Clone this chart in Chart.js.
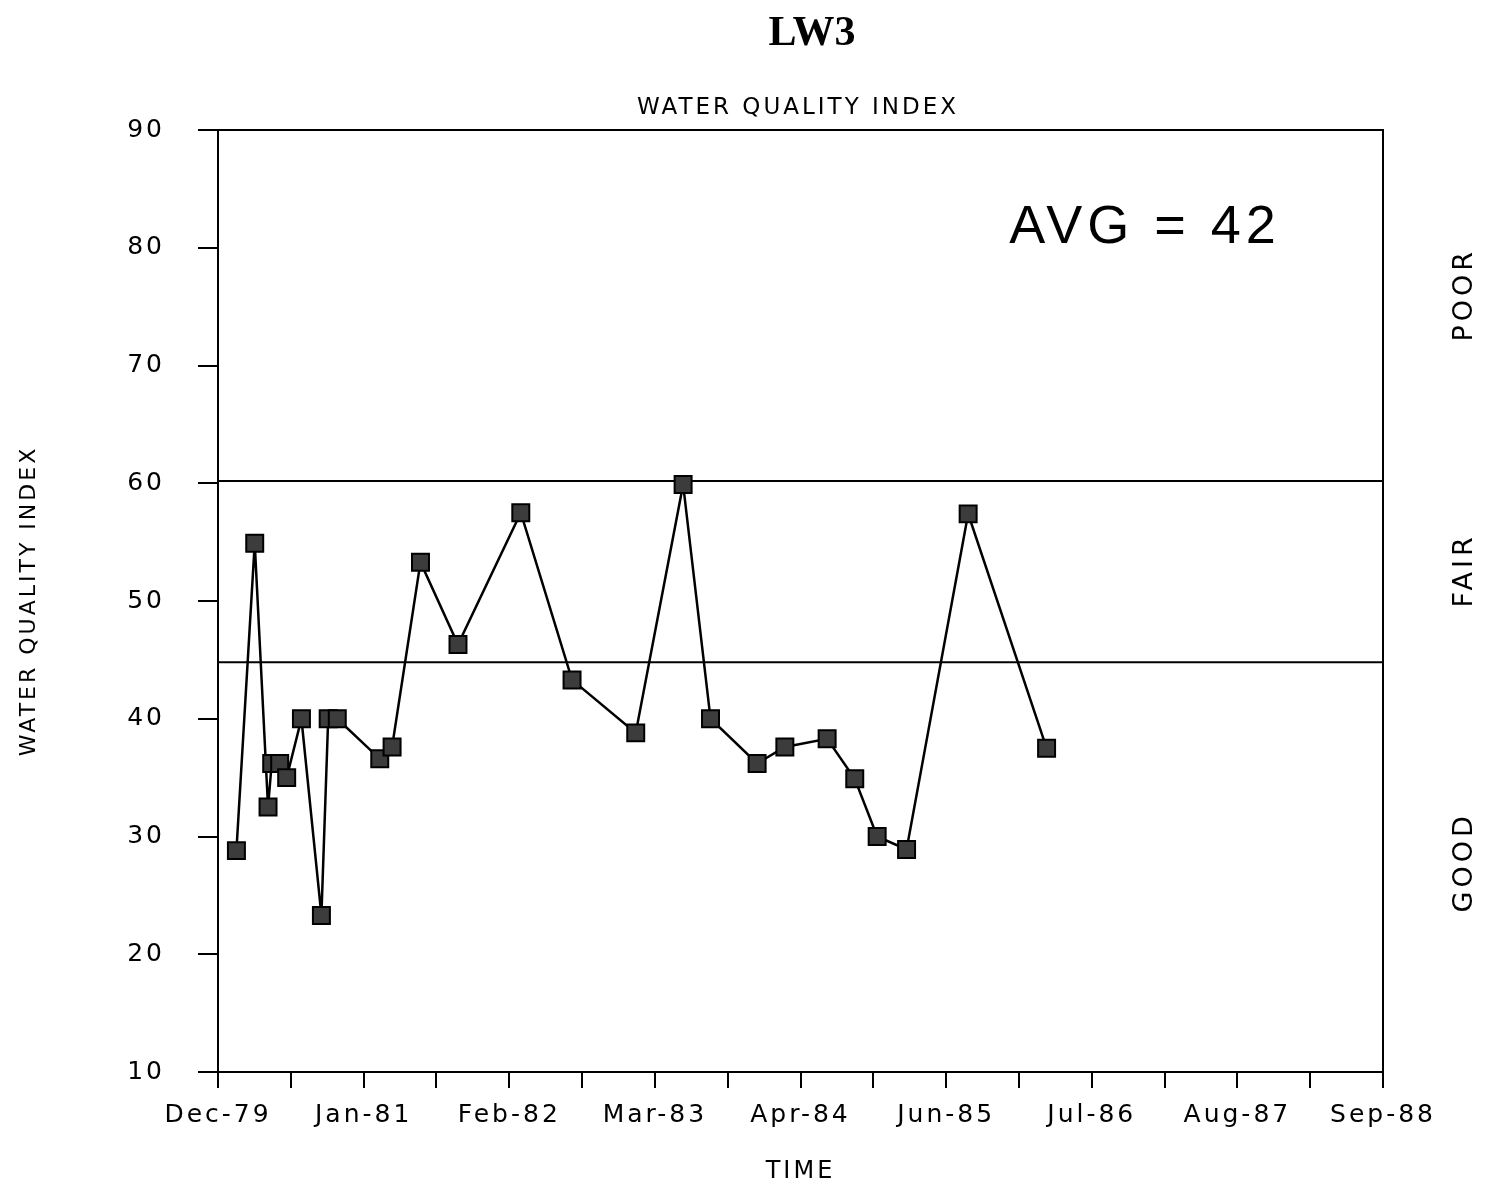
<!DOCTYPE html>
<html>
<head>
<meta charset="utf-8">
<title>LW3 Water Quality Index</title>
<script src="https://cdn.jsdelivr.net/npm/chart.js@4.4.1/dist/chart.umd.min.js"></script>
<style>
  html, body { margin: 0; padding: 0; background: #fff; }
  canvas { display: block; }
</style>
</head>
<body>
<canvas id="wqiChart" width="1486" height="1191"></canvas>
<script>
// labels under every second tick of the time axis
const dateLabels = ['Dec-79', 'Jan-81', 'Feb-82', 'Mar-83', 'Apr-84', 'Jun-85', 'Jul-86', 'Aug-87', 'Sep-88'];
// sample dates, as months after Dec-79
const sampleMonths = [1.66, 3.31, 4.51, 4.84, 5.56, 6.19, 7.52, 9.32, 9.93, 10.75,
  14.58, 15.69, 18.25, 21.63, 27.29, 31.91, 37.65, 41.92, 44.39, 48.59,
  51.09, 54.90, 57.39, 59.41, 62.06, 67.61, 74.68];
const wqiValues = [28.8, 54.9, 32.5, 36.2, 36.2, 35.0, 40.0, 23.3, 40.0, 40.0,
  36.6, 37.6, 53.3, 46.3, 57.5, 43.3, 38.8, 59.9, 40.0, 36.2,
  37.6, 38.3, 34.9, 30.0, 28.9, 57.4, 37.5];
const poorLimit = 60.2;
const fairLimit = 44.8;
const zoneNames = ['POOR', 'FAIR', 'GOOD'];
const zoneCentres = [76, 52.6, 27.8];
const avgValue = 42;
const axisMonths = 105;   // Dec-79 .. Sep-88
const tickCount = 16;

// the old plotter font is widely spaced
const spacing = {
  id: 'spacing',
  beforeUpdate(chart) { chart.ctx.letterSpacing = '3px'; },
  beforeDraw(chart) { chart.ctx.letterSpacing = '3px'; }
};

const decorations = {
  id: 'decorations',
  afterDraw(chart) {
    const { ctx, chartArea: a, scales: { y } } = chart;
    ctx.save();
    ctx.strokeStyle = '#000';
    ctx.lineWidth = 2;
    ctx.strokeRect(a.left, a.top, a.right - a.left, a.bottom - a.top);

    ctx.fillStyle = '#000';
    ctx.textAlign = 'center';
    ctx.letterSpacing = '0px';
    ctx.font = 'bold 42px "Liberation Serif"';
    ctx.fillText('LW3', 812, 45);

    ctx.letterSpacing = '3px';
    ctx.font = '23px "DejaVu Sans"';
    ctx.fillText('WATER QUALITY INDEX', 798, 114);

    ctx.letterSpacing = '5px';
    ctx.font = '54px "Liberation Sans"';
    ctx.fillText('AVG = ' + avgValue, 1145, 243);

    ctx.letterSpacing = '4px';
    ctx.font = '27px "DejaVu Sans"';
    ctx.textBaseline = 'middle';
    zoneNames.forEach((name, i) => {
      ctx.save();
      ctx.translate(1465, y.getPixelForValue(zoneCentres[i]));
      ctx.rotate(-Math.PI / 2);
      ctx.fillText(name, 0, 0);
      ctx.restore();
    });
    ctx.restore();
  }
};

Chart.defaults.font.family = '"DejaVu Sans", sans-serif';
Chart.defaults.color = '#000';

new Chart(document.getElementById('wqiChart'), {
  type: 'line',
  data: {
    datasets: [
      {
        label: 'WQI',
        data: sampleMonths.map((m, i) => ({ x: m, y: wqiValues[i] })),
        borderColor: '#000',
        borderWidth: 2.5,
        tension: 0,
        pointStyle: 'rect',
        pointRadius: 12,
        pointBackgroundColor: '#3c3c3c',
        pointBorderColor: '#000',
        pointBorderWidth: 2
      },
      {
        label: 'Poor limit',
        data: [{ x: 0, y: poorLimit }, { x: axisMonths, y: poorLimit }],
        borderColor: '#000',
        borderWidth: 2,
        pointRadius: 0
      },
      {
        label: 'Fair limit',
        data: [{ x: 0, y: fairLimit }, { x: axisMonths, y: fairLimit }],
        borderColor: '#000',
        borderWidth: 2,
        pointRadius: 0
      }
    ]
  },
  options: {
    responsive: false,
    animation: false,
    layout: { padding: { top: 130, right: 103, bottom: 0, left: 0 } },
    plugins: { legend: { display: false }, tooltip: { enabled: false } },
    scales: {
      x: {
        type: 'linear',
        min: 0,
        max: axisMonths,
        afterFit(s) { s.height = 119; },
        grid: { drawOnChartArea: false, color: '#000', lineWidth: 2, tickLength: 16 },
        border: { color: '#000', width: 2 },
        ticks: {
          stepSize: axisMonths / tickCount,
          autoSkip: false,
          maxRotation: 0,
          padding: 12,
          font: { size: 25 },
          callback: (v, i) => (i % 2 === 0 ? dateLabels[i / 2] : '')
        },
        title: { display: true, text: 'TIME', font: { size: 24 }, padding: { top: 0, bottom: 5 } }
      },
      y: {
        min: 10,
        max: 90,
        afterFit(s) { s.width = 218; },
        grid: { drawOnChartArea: false, color: '#000', lineWidth: 2, tickLength: 20 },
        border: { color: '#000', width: 2 },
        ticks: { stepSize: 10, padding: 33, font: { size: 25 } },
        title: { display: true, text: 'WATER QUALITY INDEX', font: { size: 22 }, padding: { top: 16, bottom: 0 } }
      }
    }
  },
  plugins: [spacing, decorations]
});
</script>
</body>
</html>
